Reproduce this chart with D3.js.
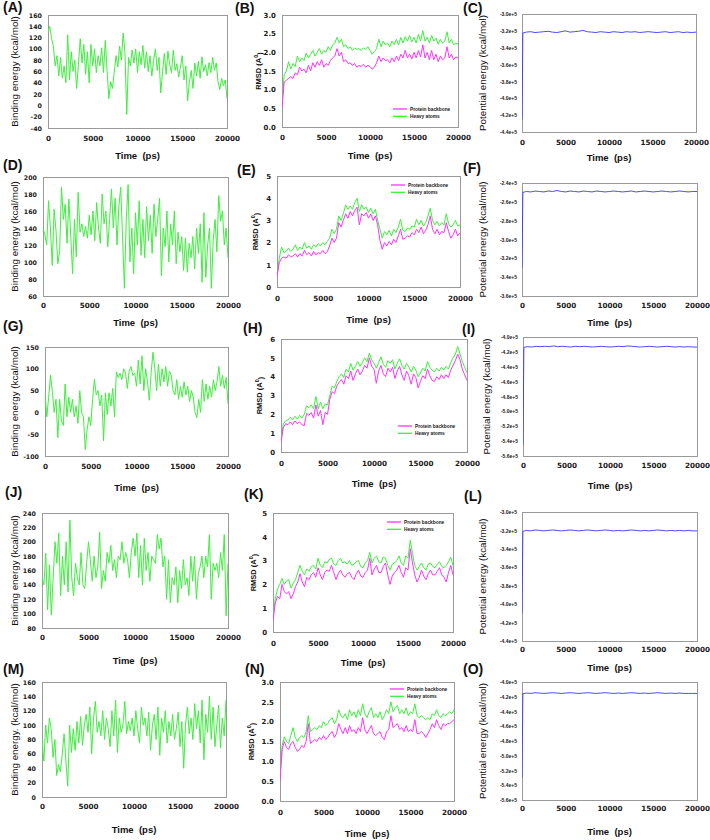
<!DOCTYPE html>
<html>
<head>
<meta charset="utf-8">
<script src="https://cdn.jsdelivr.net/npm/d3@7"></script>
<style>
body{margin:0;background:#fff;}
svg{display:block;}
</style>
</head>
<body>
<div id="chart"></div>
<script>
// sampling grids (ps)
const timeBE = d3.range(0, 20001, 200);
const timeRMSD = d3.range(0, 20001, 250);
const potTime = [0, 100].concat(d3.range(500, 20001, 500));
const xTicks = [0, 5000, 10000, 15000, 20000];

// binding energy (kcal/mol), every 200 ps
const beA = [130,140,118,105,70,88,52,85,48,70, 40,125,45,95,60,80,30,72,118,75,
  108,55,95,40,108,70,100,58,88,70, 102,58,115,62,12,42,30,58,88,68,
  105,80,128,92,-16,85,70,98,75,100, 58,95,72,106,66,95,60,88,52,80,
  100,62,85,22,60,92,55,96,72,58, 98,62,74,50,68,88,45,70,8,42,
  62,30,75,52,78,48,86,60,72,52, 76,58,85,62,75,42,28,48,35,45, 12];
const beD = [140,132,120,172,140,96,162,138,98,112, 188,150,168,122,174,130,86,150,106,182,
  135,145,130,142,128,155,132,160,125,170, 140,122,180,145,160,118,150,186,140,175,
  120,165,188,130,69,150,191,100,140,86, 158,120,172,108,150,105,165,125,155,110,
  168,130,150,175,84,140,118,160,100,145, 120,160,98,135,112,130,90,128,88,122,
  105,130,92,140,110,145,76,158,82,120, 140,69,125,150,112,178,148,160,120,140, 105];
const beG = [45,-10,35,85,50,0,30,-58,30,-20, -30,65,-10,35,0,30,-10,15,-25,50,
  0,-10,-85,-40,-10,-30,30,76,40,50, 15,40,-65,45,-5,45,15,55,-10,93,
  80,90,75,100,90,55,95,105,85,90, 60,120,65,130,50,100,70,28,90,138,
  100,50,110,60,100,70,105,60,95,85, 50,40,75,30,60,35,70,40,60,25,
  50,35,0,-12,30,0,75,25,65,30, 60,35,75,50,70,105,60,85,55,80, 20];
const beJ = [150,140,184,105,168,98,150,200,170,212, 125,180,140,200,130,230,150,125,170,150,
  140,185,140,135,170,200,175,145,180,150, 165,213,135,160,145,185,170,195,160,175,
  150,180,175,200,170,185,175,150,185,205, 180,212,150,195,140,205,160,185,145,180,
  175,170,210,190,205,165,180,120,175,115, 150,140,165,115,160,135,175,140,150,125,
  180,145,180,120,155,165,180,150,180,165, 210,120,170,160,170,150,185,160,210,97, 170];
const beM = [80,50,100,75,110,95,55,80,30,45, 35,60,88,50,15,100,62,95,65,105,
  75,112,72,100,115,90,125,60,110,133, 90,105,85,120,80,110,95,70,120,85,
  135,62,110,90,100,133,88,105,92,110, 85,120,95,75,125,100,110,85,118,65,
  100,115,80,125,58,110,90,120,75,105, 85,115,80,95,118,70,105,40,100,125,
  88,110,80,130,95,120,75,135,52,115, 90,140,80,125,70,100,128,68,110,85, 135];

// RMSD (A), every 250 ps: heavy atoms / protein backbone
const heavyB = [0.6,1.4,1.5,1.75,1.55,1.7,1.62,1.9,1.75,1.85, 1.78,1.98,1.85,1.95,2.05,1.9,2.0,2.1,1.95,2.05,
  2.0,2.15,2.05,2.2,2.25,2.4,2.25,2.35,2.15,2.2, 2.1,2.15,2.05,2.12,2.08,2.1,2.05,2.12,2.08,2.15,
  2.05,1.95,2.02,2.1,2.35,2.15,2.3,2.2,2.25,2.15, 2.3,2.2,2.35,2.2,2.4,2.25,2.42,2.3,2.45,2.28,
  2.4,2.25,2.48,2.3,2.58,2.3,2.4,2.25,2.45,2.3, 2.38,2.22,2.35,2.25,2.3,2.55,2.25,2.35,2.2,2.25, 2.22];
const backboneB = [0.5,1.2,1.25,1.3,1.35,1.3,1.45,1.4,1.6,1.5, 1.55,1.45,1.65,1.5,1.72,1.6,1.75,1.65,1.8,1.6,
  1.7,1.65,1.78,1.85,1.9,2.1,1.9,2.0,1.75,1.8, 1.7,1.72,1.65,1.7,1.6,1.65,1.62,1.68,1.6,1.65,
  1.62,1.55,1.6,1.72,1.9,1.75,1.85,1.78,1.8,1.72, 1.85,1.75,1.9,1.78,1.95,1.85,2.05,1.85,1.95,1.82,
  2.0,1.85,2.05,1.88,2.2,1.85,2.0,1.8,2.05,1.8, 1.95,1.75,1.9,1.8,1.85,2.15,1.85,1.95,1.8,1.88, 1.85];
const heavyE = [0.5,1.3,1.8,1.55,1.6,1.75,1.6,1.7,1.9,1.65, 1.8,1.7,2.0,1.75,1.85,1.7,1.9,1.8,1.95,1.85,
  2.0,1.9,2.05,2.2,2.6,2.4,2.6,3.2,3.0,3.3, 3.7,3.5,3.65,3.5,3.8,4.0,3.4,3.7,3.5,3.6,
  3.35,3.55,3.3,3.5,3.0,2.6,2.2,2.5,2.35,2.55, 2.3,2.6,2.45,2.7,3.05,2.55,2.5,2.65,2.6,2.75,
  2.7,3.05,2.8,3.0,2.75,2.9,3.2,3.55,3.0,2.8, 2.95,2.75,2.9,2.8,3.3,2.85,2.7,2.8,3.0,2.75, 2.8];
const backboneE = [0.45,1.1,1.3,1.35,1.3,1.45,1.35,1.4,1.5,1.35, 1.5,1.4,1.65,1.45,1.55,1.4,1.6,1.45,1.55,1.5,
  1.65,1.5,1.6,1.85,2.2,2.0,2.2,2.9,2.7,3.0, 3.3,3.1,3.4,3.2,3.45,3.6,2.8,3.3,3.2,3.35,
  3.1,3.3,3.0,3.2,2.8,2.1,1.7,2.0,1.85,2.05, 1.9,2.15,2.0,2.3,2.6,2.15,2.2,2.3,2.25,2.45,
  2.35,2.6,2.45,2.7,2.4,2.55,2.8,3.2,2.6,2.4, 2.6,2.35,2.5,2.45,2.9,2.5,2.2,2.35,2.6,2.3, 2.45];
const heavyH = [0.6,1.5,1.65,1.7,1.85,1.7,1.9,1.75,1.95,1.8, 2.0,2.45,2.35,2.5,2.3,2.95,2.3,2.65,2.3,2.55,
  2.5,3.0,3.5,3.4,3.75,4.0,4.15,3.95,4.4,4.25, 4.7,4.35,4.55,4.8,4.55,4.75,5.0,4.8,5.25,4.9,
  4.7,4.45,4.75,5.05,4.65,4.5,4.85,4.7,4.9,4.4, 4.7,4.95,4.6,4.4,4.7,4.5,4.25,4.55,4.35,4.0,
  4.2,4.45,4.3,4.8,4.5,4.35,4.25,4.45,4.3,4.5, 4.35,4.55,4.4,4.75,5.0,5.2,5.6,5.2,4.8,4.5, 4.2];
const backboneH = [0.5,1.3,1.5,1.45,1.6,1.45,1.65,1.5,1.6,1.45, 1.4,2.05,1.95,2.1,1.8,2.5,1.9,2.2,1.45,2.1,
  2.0,2.8,3.2,3.1,3.5,3.7,3.85,3.6,4.05,3.9, 4.3,3.8,4.15,4.4,4.1,4.3,4.6,4.45,5.0,4.55,
  4.4,3.65,4.3,4.6,4.15,4.0,4.45,4.25,4.5,3.9, 4.3,4.55,4.1,3.8,4.3,4.05,3.6,4.15,3.95,3.4,
  3.75,4.05,3.9,4.4,4.05,3.8,3.75,4.0,3.85,4.1, 3.9,4.1,3.95,4.35,4.6,4.85,5.2,4.9,4.4,4.1, 3.8];
const heavyK = [0.6,1.4,1.8,2.0,2.25,2.0,2.15,2.2,1.85,2.05, 2.2,2.5,2.8,2.55,2.4,2.65,2.55,2.75,2.8,2.65,
  3.1,2.8,2.7,2.95,2.9,3.05,3.1,2.85,2.8,3.0, 3.1,2.9,2.95,2.85,3.0,2.8,2.85,2.95,3.0,2.75,
  2.7,2.9,3.0,3.35,2.9,3.1,3.2,2.95,2.9,3.15, 3.1,2.8,2.6,2.85,2.9,3.0,3.2,2.9,2.8,3.2,
  3.1,3.85,3.3,2.8,2.6,2.75,2.9,2.7,2.6,2.85, 2.9,2.75,2.7,2.85,2.95,2.75,2.7,2.8,2.95,3.15, 2.8];
const backboneK = [0.5,1.2,1.5,1.4,2.0,1.7,1.6,1.7,1.4,1.6, 1.9,2.1,2.45,2.1,1.9,2.3,2.2,2.4,2.5,2.3,
  2.7,2.4,2.2,2.5,2.6,2.55,2.8,2.5,2.2,2.45, 2.6,2.4,2.3,2.45,2.5,2.3,2.2,2.45,2.6,2.35,
  2.3,2.5,2.6,3.1,2.4,2.65,2.8,2.5,2.5,2.75, 2.9,2.4,2.0,2.35,2.5,2.6,2.8,2.5,2.3,2.7,
  2.6,3.5,2.9,2.4,2.1,2.3,2.6,2.35,2.2,2.45, 2.6,2.4,2.4,2.55,2.7,2.4,2.3,2.1,2.5,2.8, 2.4];
const heavyN = [0.6,1.4,1.62,1.5,1.45,1.65,1.85,1.6,1.5,1.6, 1.65,1.6,1.75,2.15,1.75,1.8,1.85,1.8,1.9,1.85,
  2.0,1.9,1.95,2.05,2.1,1.95,2.05,2.3,2.15,2.1, 2.2,2.05,2.3,2.15,2.25,2.1,2.3,2.15,2.45,2.2,
  2.1,2.25,2.35,2.1,2.2,2.1,2.25,2.05,2.15,2.3, 2.2,2.5,2.25,2.35,2.4,2.2,2.3,2.2,2.35,2.15,
  2.25,2.2,2.45,2.15,2.1,2.15,2.1,2.05,2.1,2.05, 2.2,2.15,2.3,2.15,2.1,2.2,2.15,2.2,2.25,2.2, 2.3];
const backboneN = [0.5,1.3,1.5,1.35,1.3,1.45,1.5,1.35,1.25,1.3, 1.4,1.35,1.5,1.95,1.45,1.5,1.55,1.5,1.6,1.55,
  1.65,1.55,1.6,1.7,1.75,1.6,1.7,1.95,1.8,1.7, 1.85,1.7,1.9,1.75,1.8,1.7,1.85,1.75,2.1,1.8,
  1.7,1.8,1.9,1.7,1.65,1.7,1.75,1.6,1.55,1.75, 1.8,2.15,1.85,1.9,1.95,1.8,1.85,1.75,1.9,1.75,
  1.8,1.75,2.05,1.7,1.7,1.75,1.7,1.6,1.7,1.8, 1.95,1.85,2.05,1.9,1.8,1.95,1.9,1.95,1.95,2.0, 2.05];

// potential energy (kcal/mol)
const potC = [-425000,-322500,-321500,-321000,-322000,-321500,-321000,-320500,-321500,-322000,
  -321000,-320000,-321500,-321000,-320500,-319500,-321000,-321500,-322000,-321000,
  -321500,-322000,-321000,-321500,-322000,-321000,-321500,-321000,-322000,-321500,
  -321000,-321500,-322000,-321500,-321000,-322000,-321500,-321000,-322000,-321500, -322000,-321500];
const potF = [-330000,-250000,-249000,-249500,-248500,-249000,-249500,-248500,-249000,-248000,
  -249000,-249500,-248500,-249000,-249500,-248500,-249000,-249500,-248500,-249000,
  -249500,-249000,-248500,-249000,-249500,-249000,-248500,-249500,-249000,-248500,
  -249000,-249500,-249000,-248500,-249000,-249500,-249000,-248500,-249000,-249500, -249000,-249000];
const potI = [-545000,-414000,-413000,-413500,-412500,-413000,-412500,-413000,-412000,-413000,
  -412500,-413000,-413500,-412500,-413000,-412500,-413000,-413500,-413000,-412500,
  -413000,-413500,-413000,-412500,-413000,-412000,-412500,-413000,-413500,-413000,
  -412500,-413000,-413500,-413000,-412500,-413000,-413500,-413000,-413500,-413000, -413500,-413500];
const potL = [-410000,-321000,-320000,-320500,-319500,-320000,-320500,-320000,-319500,-320000,
  -320500,-320000,-319500,-320000,-320500,-320000,-319500,-320000,-320500,-320000,
  -319500,-320000,-320500,-320000,-320500,-320000,-319500,-320000,-320500,-320000,
  -320500,-320000,-319500,-320000,-320500,-320000,-320500,-320000,-320500,-320000, -320500,-320500];
const potO = [-530000,-416000,-415000,-415500,-414500,-415000,-415500,-415000,-414500,-415000,
  -415500,-415000,-414500,-415000,-415500,-415000,-414500,-415000,-415500,-415000,
  -414500,-415000,-415500,-415000,-415500,-415000,-414500,-415000,-415500,-415000,
  -415500,-415000,-414500,-415000,-415500,-415000,-415500,-415000,-415500,-415500, -415500,-415500];

// y tick labels
const ticksA = [-40,-20,0,20,40,60,80,100,120,140,160];
const ticksD = [60,80,100,120,140,160,180,200];
const ticksG = [-100,-50,0,50,100,150];
const ticksJ = [80,100,120,140,160,180,200,220,240];
const ticksM = [0,20,40,60,80,100,120,140,160];
const ticksRmsd3 = [0,0.5,1.0,1.5,2.0,2.5,3.0];
const ticksRmsd5 = [0,1,2,3,4,5];
const ticksRmsd6 = [0,1,2,3,4,5,6];
const ticksPotC = [-440000,-420000,-400000,-380000,-360000,-340000,-320000,-300000];
const ticksPotF = [-360000,-340000,-320000,-300000,-280000,-260000,-240000];
const ticksPotI = [-560000,-540000,-520000,-500000,-480000,-460000,-440000,-420000,-400000];

const legendNames = ["Protein backbone", "Heavy atoms"];

const GREEN = "#3cf03c", MAGENTA = "#ff33ff", BLUE = "#3838ff";

const svg = d3.select("#chart").append("svg")
    .attr("width", 710).attr("height", 840)
    .attr("viewBox", [0, 0, 710, 840]);

let panels = [
  {tag:"(A)", kind:"be", box:[48,227,15,128], tagXY:[3,12], yTitleX:15, xLabY:138, xTitleY:156, yDom:[-40,160], yTicks:ticksA,
    series:[{t:timeBE, v:beA, c:GREEN}]},
  {tag:"(B)", kind:"rmsd", dec:true, box:[282,458,15,127], tagXY:[235,13], yTitleX:258, xLabY:137, xTitleY:156, yDom:[0,3], yTicks:ticksRmsd3,
    series:[{t:timeRMSD, v:heavyB, c:GREEN},{t:timeRMSD, v:backboneB, c:MAGENTA}], legend:[393,410,109]},
  {tag:"(C)", kind:"pot", box:[522,696,14,132], tagXY:[463,13], yTitleX:483, xLabY:142, xTitleY:158, yDom:[-440000,-300000], yTicks:ticksPotC,
    series:[{t:potTime, v:potC, c:BLUE}]},

  {tag:"(D)", kind:"be", box:[43,228,177,296], tagXY:[3,170], yTitleX:15, xLabY:305, xTitleY:323, yDom:[60,200], yTicks:ticksD,
    series:[{t:timeBE, v:beD, c:GREEN}]},
  {tag:"(E)", kind:"rmsd", box:[277,460,176,287], tagXY:[237,175], yTitleX:255, xLabY:298, xTitleY:320, yDom:[0,5], yTicks:ticksRmsd5,
    series:[{t:timeRMSD, v:heavyE, c:GREEN},{t:timeRMSD, v:backboneE, c:MAGENTA}], legend:[391,408,185]},
  {tag:"(F)", kind:"pot", box:[522,697,183,296], tagXY:[463,173], yTitleX:483, xLabY:305, xTitleY:323, yDom:[-360000,-240000], yTicks:ticksPotF,
    series:[{t:potTime, v:potF, c:BLUE}]},

  {tag:"(G)", kind:"be", box:[45,228,347,456], tagXY:[3,331], yTitleX:15, xLabY:466, xTitleY:488, yDom:[-100,150], yTicks:ticksG,
    series:[{t:timeBE, v:beG, c:GREEN}]},
  {tag:"(H)", kind:"rmsd", box:[281,467,339,452], tagXY:[243,333], yTitleX:259, xLabY:463, xTitleY:484, yDom:[0,6], yTicks:ticksRmsd6,
    series:[{t:timeRMSD, v:heavyH, c:GREEN},{t:timeRMSD, v:backboneH, c:MAGENTA}], legend:[398,415,426]},
  {tag:"(I)", kind:"pot", box:[523,697,337,456], tagXY:[462,334], yTitleX:487, xLabY:465, xTitleY:486, yDom:[-560000,-400000], yTicks:ticksPotI,
    series:[{t:potTime, v:potI, c:BLUE}]},

  {tag:"(J)", kind:"be", box:[42,228,513,628], tagXY:[5,497], yTitleX:15, xLabY:637, xTitleY:661, yDom:[80,240], yTicks:ticksJ,
    series:[{t:timeBE, v:beJ, c:GREEN}]},
  {tag:"(K)", kind:"rmsd", box:[273,453,513,632], tagXY:[244,499], yTitleX:253, xLabY:643, xTitleY:663, yDom:[0,5], yTicks:ticksRmsd5,
    series:[{t:timeRMSD, v:heavyK, c:GREEN},{t:timeRMSD, v:backboneK, c:MAGENTA}], legend:[387,404,522]},
  {tag:"(L)", kind:"pot", box:[522,697,512,641], tagXY:[464,501], yTitleX:483, xLabY:649, xTitleY:668, yDom:[-440000,-300000], yTicks:ticksPotC,
    series:[{t:potTime, v:potL, c:BLUE}]},

  {tag:"(M)", kind:"be", dot:true, box:[42,226,682,797], tagXY:[3,674], yTitleX:15, xLabY:806, xTitleY:830, yDom:[0,160], yTicks:ticksM,
    series:[{t:timeBE, v:beM, c:GREEN}]},
  {tag:"(N)", kind:"rmsd", dec:true, box:[280,454,682,801], tagXY:[245,674], yTitleX:251, xLabY:812, xTitleY:834, yDom:[0,3], yTicks:ticksRmsd3,
    series:[{t:timeRMSD, v:heavyN, c:GREEN},{t:timeRMSD, v:backboneN, c:MAGENTA}], legend:[390,407,689]},
  {tag:"(O)", kind:"pot", box:[522,697,682,800], tagXY:[463,674], yTitleX:483, xLabY:808, xTitleY:832, yDom:[-560000,-400000], yTicks:ticksPotI,
    series:[{t:potTime, v:potO, c:BLUE}]}
];

const tickFont = "'DejaVu Sans', Verdana, sans-serif";
const titleFont = "'Liberation Sans', Arial, sans-serif";

function drawPanel(p, i){
    let [x0, x1, y0, y1] = p.box;
    let x = d3.scaleLinear().domain([0, 20000]).range([x0, x1]);
    let y = d3.scaleLinear().domain(p.yDom).range([y1, y0]);
    let g = svg.append("g").attr("class", "panel");

    g.append("clipPath").attr("id", "clip" + i)
        .append("rect").attr("x", x0).attr("y", y0).attr("width", x1 - x0).attr("height", y1 - y0);

    g.append("rect")
        .attr("x", x0 + 0.5).attr("y", y0 + 0.5)
        .attr("width", x1 - x0).attr("height", y1 - y0)
        .attr("fill", "none").attr("stroke", "#9a9a9a").attr("stroke-width", 1);

    let line = d3.line().x(d => x(d[0])).y(d => y(d[1]));
    p.series.forEach(s => {
        g.append("path")
            .datum(d3.zip(s.t, s.v))
            .attr("clip-path", `url(#clip${i})`)
            .attr("fill", "none")
            .attr("stroke", s.c)
            .attr("stroke-width", p.kind == "pot" ? 0.9 : 1)
            .attr("stroke-linejoin", "round")
            .attr("d", line);
    });

    // y axis labels
    let fmt = d => String(d);
    if(p.dec) fmt = d => d.toFixed(1);
    if(p.kind == "pot") fmt = d => (d / 1e5).toFixed(1) + "e+5";
    let yfs = p.kind == "pot" ? 5 : (p.kind == "rmsd" ? 7 : 6.3);
    let ya = g.append("g")
        .attr("transform", `translate(${x0},0)`)
        .call(d3.axisLeft(y).tickValues(p.yTicks).tickSize(0).tickPadding(p.kind == "pot" ? 5 : 6).tickFormat(fmt));
    ya.select(".domain").remove();
    ya.selectAll("text")
        .attr("font-family", p.kind == "pot" ? titleFont : tickFont)
        .attr("font-weight", "bold")
        .attr("font-size", yfs)
        .attr("fill", "#1a1a1a");

    // x axis labels
    let xfs = 7.2;
    let xa = g.append("g")
        .attr("transform", `translate(0,${y1})`)
        .call(d3.axisBottom(x).tickValues(xTicks).tickSize(0).tickPadding(p.xLabY - y1 - 0.35 * xfs).tickFormat(d => String(d)));
    xa.select(".domain").remove();
    xa.selectAll("text")
        .attr("font-family", tickFont)
        .attr("font-weight", "bold")
        .attr("font-size", xfs)
        .attr("fill", "#1a1a1a");

    // x title
    g.append("text")
        .attr("x", (x0 + x1) / 2).attr("y", p.xTitleY).attr("dy", "0.35em")
        .attr("text-anchor", "middle")
        .attr("font-family", titleFont).attr("font-weight", "bold").attr("font-size", 9.5)
        .attr("fill", "#111")
        .attr("xml:space", "preserve")
        .text("Time  (ps)");

    // y title
    let yt = g.append("text")
        .attr("transform", `translate(${p.yTitleX},${(y0 + y1) / 2}) rotate(-90)`)
        .attr("dy", "0.35em")
        .attr("text-anchor", "middle")
        .attr("font-family", titleFont)
        .attr("fill", "#111");
    if(p.kind == "rmsd"){
        yt.attr("font-size", 7.5).attr("font-weight", "bold");
        yt.append("tspan").text("RMSD (A");
        yt.append("tspan").attr("dy", "-0.45em").attr("font-size", 5.5).text("0");
        yt.append("tspan").attr("dy", "0.45em").text(")");
    }else{
        yt.attr("font-size", 9.8)
            .text(p.kind == "pot" ? "Potential energy (kcal/mol)" : (p.dot ? "Binding energy. (kcal/mol)" : "Binding energy (kcal/mol)"));
    }

    // panel tag
    g.append("text")
        .attr("x", p.tagXY[0]).attr("y", p.tagXY[1])
        .attr("font-family", titleFont).attr("font-weight", "bold").attr("font-size", 14)
        .attr("fill", "#111")
        .text(p.tag);

    // legend
    if(p.legend){
        let [lx, tx, ly] = p.legend;
        let leg = g.append("g");
        let colors = [MAGENTA, GREEN];
        legendNames.forEach((name, k) => {
            let yy = ly + k * 7.3;
            leg.append("line").attr("x1", lx).attr("x2", lx + 14).attr("y1", yy).attr("y2", yy)
                .attr("stroke", colors[k]).attr("stroke-width", 1.3);
            leg.append("text").attr("x", tx).attr("y", yy).attr("dy", "0.35em")
                .attr("font-family", titleFont).attr("font-weight", "bold").attr("font-size", 4.8)
                .attr("fill", "#222").text(name);
        });
    }
}

panels.forEach(drawPanel);
</script>
</body>
</html>
